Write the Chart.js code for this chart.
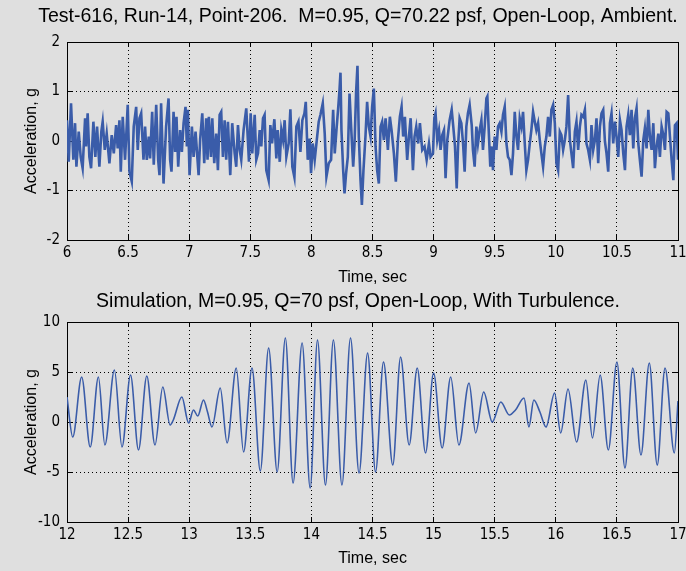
<!DOCTYPE html>
<html>
<head>
<meta charset="utf-8">
<script src="https://cdn.jsdelivr.net/npm/chart.js@4.4.1/dist/chart.umd.min.js"></script>
<style>
  html, body { margin: 0; padding: 0; background: #fff; }
  #fig { position: relative; width: 686px; height: 571px; background: #dfdfdf; }
  #fig canvas { position: absolute; left: 0; }
  #topChart { top: 0; }
  #bottomChart { top: 290px; }
</style>
</head>
<body>
<div id="fig">
  <canvas id="topChart" width="686" height="290"></canvas>
  <canvas id="bottomChart" width="686" height="281"></canvas>
</div>
<script>
// Wind tunnel record (top panel), time in sec / acceleration in g
const topTime = [
  6.000, 6.014, 6.033, 6.052, 6.066, 6.077, 6.096, 6.112, 6.128, 6.148,
  6.156, 6.169, 6.183, 6.197, 6.216, 6.232, 6.246, 6.265, 6.281, 6.292,
  6.309, 6.325, 6.347, 6.366, 6.383, 6.402, 6.415, 6.429, 6.440, 6.456,
  6.475, 6.497, 6.511, 6.530, 6.546, 6.566, 6.579, 6.593, 6.607, 6.626,
  6.639, 6.653, 6.669, 6.680, 6.697, 6.710, 6.730, 6.746, 6.757, 6.770,
  6.790, 6.811, 6.831, 6.844, 6.855, 6.872, 6.885, 6.896, 6.910, 6.926,
  6.940, 6.954, 6.970, 6.981, 6.989, 7.003, 7.022, 7.036, 7.052, 7.077,
  7.090, 7.107, 7.123, 7.139, 7.150, 7.161, 7.178, 7.189, 7.205, 7.221,
  7.235, 7.249, 7.262, 7.276, 7.290, 7.303, 7.317, 7.336, 7.352, 7.372,
  7.385, 7.399, 7.413, 7.426, 7.445, 7.467, 7.489, 7.503, 7.516, 7.536,
  7.549, 7.563, 7.577, 7.590, 7.604, 7.617, 7.631, 7.650, 7.664,
  7.678, 7.697, 7.713, 7.724, 7.741, 7.754, 7.768, 7.781, 7.795, 7.814,
  7.828, 7.844, 7.861, 7.877, 7.894, 7.910, 7.926, 7.943, 7.954, 7.970,
  7.986, 7.997, 8.011, 8.027, 8.047, 8.060, 8.074, 8.093, 8.109, 8.123,
  8.142, 8.161, 8.178, 8.191, 8.205, 8.219, 8.230, 8.238, 8.246, 8.260,
  8.271, 8.284, 8.298, 8.312, 8.325, 8.342, 8.353, 8.366, 8.377, 8.388,
  8.402, 8.413, 8.426, 8.443, 8.456, 8.470, 8.484, 8.497, 8.511, 8.525,
  8.538, 8.552, 8.566, 8.579, 8.593, 8.607, 8.626, 8.642, 8.656, 8.675,
  8.691, 8.708, 8.724, 8.738, 8.751, 8.765, 8.784, 8.798, 8.812, 8.831,
  8.844, 8.858, 8.874, 8.888, 8.907, 8.926, 8.943, 8.962, 8.975, 8.995,
  9.006, 9.016, 9.030, 9.044, 9.057, 9.071, 9.085, 9.098, 9.112, 9.131,
  9.148, 9.161, 9.175, 9.189, 9.200, 9.213, 9.227, 9.241, 9.254, 9.268,
  9.281, 9.295, 9.312, 9.322, 9.336, 9.350,
  9.363, 9.377, 9.391, 9.404, 9.418, 9.432, 9.440, 9.451, 9.464, 9.478,
  9.486, 9.500, 9.514, 9.527, 9.541, 9.555, 9.568, 9.582, 9.596, 9.609,
  9.623, 9.637, 9.650, 9.664, 9.678, 9.691, 9.705, 9.719, 9.732, 9.746,
  9.759, 9.773, 9.787, 9.800, 9.814, 9.828, 9.841, 9.855, 9.869, 9.882,
  9.896, 9.910, 9.923, 9.937, 9.951, 9.964, 9.978, 9.992, 10.005, 10.019,
  10.033, 10.046, 10.060, 10.074, 10.087, 10.101, 10.115, 10.128, 10.142, 10.156,
  10.169, 10.183, 10.197, 10.210, 10.224, 10.238, 10.251, 10.265, 10.279, 10.292,
  10.306, 10.320, 10.333, 10.347, 10.361, 10.374, 10.388, 10.402, 10.415, 10.429,
  10.443, 10.456, 10.470, 10.484, 10.497, 10.511, 10.525, 10.538, 10.552, 10.566,
  10.579, 10.593, 10.606, 10.620, 10.634, 10.647, 10.661, 10.675, 10.688, 10.702,
  10.716, 10.729, 10.743, 10.757, 10.770, 10.784, 10.798, 10.811, 10.825, 10.839,
  10.852, 10.866, 10.880, 10.893, 10.907, 10.921, 10.934, 10.948, 10.962, 10.975,
  10.989, 11.000
];
const topAccel = [
  0.42, -0.42, 0.76, -0.38, 0.36, -0.52, 0.19, -0.32, -0.55, 0.46,
  -0.11, 0.56, -0.32, -0.55, 0.39, -0.32, 0.29, -0.52, 0.19, 0.39,
  -0.18, 0.15, -0.45, 0.12, -0.25, 0.32, -0.15, 0.42, -0.62, 0.49,
  -0.38, 0.73, -0.62, -0.82, 0.29, 0.69, -0.18, 0.46, 0.56, -0.38,
  0.29, -0.38, 0.09, -0.35, 0.59, -0.48, 0.73, -0.38, -0.69, 0.76,
  -0.86, 0.29, 0.86, -0.38, -0.62, 0.59, -0.22, 0.49, -0.52, 0.22,
  -0.22, 0.36, 0.69, -0.11, 0.63, -0.69, 0.29, -0.32, 0.19, -0.69,
  0.05, 0.56, -0.45, 0.46, -0.38, 0.49, -0.32, 0.46, -0.45, 0.15,
  -0.59, 0.53, 0.59, -0.32, 0.42, -0.38, 0.39, -0.69, 0.36, -0.25,
  -0.52, 0.32, -0.18, -0.38, 0.22, 0.66, -0.42, 0.56, -0.25, 0.53,
  -0.38, -0.25, 0.22, -0.11, 0.46, 0.53, -0.59, -0.79, 0.32,
  -0.05, 0.44, -0.35, 0.22, -0.42, 0.22, 0.02, 0.42, -0.32, -0.05,
  0.64, -0.52, -0.73, 0.29, 0.39, -0.22, 0.42, 0.56, 0.79, -0.38,
  0.05, -0.65, -0.05, -0.38, 0.09, 0.39, 0.53, 0.76, 0.15, -0.72,
  -0.45, -0.38, 0.63, -0.25, 0.22, 0.66, 1.03, 1.38, 0.22, -0.59,
  -1.06, -0.65, -0.32, 0.96, 0.29, -0.52, -0.05, 1.00, 1.52, 0.09,
  -0.79, -1.29, -0.59, 0.12, 0.79, 0.29, 0.09, 0.69, 1.06, -0.11,
  -0.59, -0.86, 0.29, 0.39, 0.02, 0.46, -0.18, 0.49, 0.22, -0.25,
  -0.82, 0.02, 0.49, 0.69, 0.09, 0.49, -0.38, 0.09, 0.46, -0.59,
  0.09, 0.29, -0.05, 0.36, -0.18, -0.11, -0.38, -0.05, -0.32, -0.25,
  0.46, 0.56, 0.02, 0.22, -0.18, 0.12, 0.22, -0.75, 0.02, 0.42,
  0.63, 0.29, -0.11, -0.96, -0.11, 0.46, 0.36, -0.05, -0.62, 0.29,
  0.56, 0.73, 0.32, -0.18, -0.52, 0.29,
  -0.05, 0.22, 0.42, -0.18, 0.29, 0.86, 0.90, 0.22, -0.52, -0.11,
  -0.59, 0.09, -0.18, 0.29, 0.36, 0.19, 0.53, 0.69, -0.05, -0.32,
  -0.38, -0.69, -0.25, 0.59, 0.09, -0.18, 0.46, 0.29, 0.59, -0.05,
  -0.59, -0.38, -0.05, 0.22, 0.59, 0.39, 0.22, 0.36, 0.02, -0.25,
  -0.52, -0.11, 0.09, 0.49, 0.09, 0.63, 0.73, 0.36, -0.45, -0.59,
  0.19, 0.12, -0.18, 0.02, 0.29, 0.93, 0.02, -0.25, -0.55, 0.19,
  0.39, -0.18, 0.29, 0.53, 0.49, 0.63, -0.05, -0.18, -0.38, 0.32,
  -0.18, 0.02, 0.46, -0.45, 0.29, 0.56, 0.63, -0.01, -0.25, -0.62,
  0.36, 0.56, -0.05, 0.39, 0.09, -0.32, 0.42, 0.22, -0.25, -0.59,
  0.29, 0.53, 0.12, 0.63, -0.15, 0.46, 0.66, -0.05, -0.38, -0.72,
  0.02, 0.26, -0.15, 0.63, 0.09, -0.18, 0.36, -0.55, -0.11, 0.15,
  -0.32, 0.29, 0.12, -0.18, 0.59, 0.56, 0.09, -0.38, -0.79, 0.32,
  0.36, -0.38
];

// Simulation (bottom panel)
const simTime = [
  12.000, 12.047, 12.120, 12.190, 12.257, 12.310, 12.388, 12.450, 12.520, 12.585,
  12.653, 12.720, 12.784, 12.844, 12.870, 12.940, 12.995, 13.035, 13.070, 13.117,
  13.150, 13.186, 13.254, 13.310, 13.385, 13.445, 13.514, 13.582, 13.650, 13.720,
  13.787, 13.850, 13.924, 13.990, 14.050, 14.115, 14.180, 14.250, 14.320, 14.390,
  14.460, 14.525, 14.590, 14.666, 14.730, 14.800, 14.866, 14.934, 15.000, 15.070,
  15.140, 15.207, 15.290, 15.344, 15.410, 15.480, 15.550, 15.620, 15.670, 15.740,
  15.780, 15.820, 15.870, 15.920, 15.990, 16.040, 16.100, 16.170, 16.246, 16.300,
  16.363, 16.430, 16.500, 16.566, 16.630, 16.697, 16.765, 16.830, 16.894, 16.970,
  17.000
];
const simAccel = [
  2.5, -1.5, 4.5, -2.5, 4.5, -2.3, 5.2, -2.5, 4.7, -2.8,
  4.6, -2.3, 3.5, -0.3, 0.2, 2.5, -0.1, 1.2, 0.6, 2.2,
  1.0, -0.5, 3.4, -2.1, 5.4, -3.0, 5.4, -4.9, 7.4, -5.0,
  8.4, -6.1, 7.9, -6.6, 8.2, -6.3, 8.2, -6.3, 8.4, -5.1,
  6.9, -5.0, 6.0, -4.3, 6.5, -2.3, 5.4, -3.1, 4.9, -2.6,
  4.5, -2.3, 3.9, -1.1, 3.0, 0.0, 2.0, 0.7, 1.2, 2.4,
  -0.5, 2.2, 1.0, -0.5, 2.9, -1.1, 3.3, -2.0, 4.2, -1.6,
  4.7, -2.8, 6.0, -4.6, 5.4, -3.3, 5.9, -4.3, 5.4, -3.1,
  2.1
];

const topTitle = 'Test-616, Run-14, Point-206.  M=0.95, Q=70.22 psf, Open-Loop, Ambient.';
const bottomTitle = 'Simulation, M=0.95, Q=70 psf, Open-Loop, With Turbulence.';

const lineColor = '#3a5ca9';
const textFont = "'Liberation Sans', Arial, sans-serif";
const tickFontFamily = "'Liberation Sans Narrow', 'DejaVu Sans Condensed', sans-serif";

Chart.defaults.color = '#000';

function toPoints(xs, ys) {
  const n = Math.min(xs.length, ys.length);
  const pts = [];
  for (let i = 0; i < n; i++) pts.push({ x: xs[i], y: ys[i] });
  return pts;
}

// MATLAB-ish axis: dotted grid, ticks pointing inward, box on all sides
function axisOpts(position, min, max, step, opts) {
  const labelled = position === 'bottom' || position === 'left';
  return {
    type: 'linear',
    position,
    min, max,
    afterFit: s => {
      if (s.isHorizontal()) s.height = opts.size; else s.width = opts.size;
      // edge labels may hang past the plot box, like in MATLAB
      s.paddingLeft = 0;
      s.paddingRight = 0;
    },
    ticks: {
      display: labelled,
      stepSize: step,
      autoSkip: false,
      maxRotation: 0,
      padding: opts.pad || 0,
      font: { family: tickFontFamily, size: 15, lineHeight: 1.2 },
      color: '#000',
      callback: v => String(Math.round(v * 10) / 10)
    },
    grid: {
      drawOnChartArea: labelled,
      color: '#000',
      lineWidth: 1,
      tickLength: -5,
      tickColor: '#000',
      tickWidth: 1,
      tickBorderDash: []
    },
    border: { display: true, color: '#000', width: 1, dash: [1, 3] },
    title: opts.title ? {
      display: true,
      text: opts.title,
      color: '#000',
      font: { family: textFont, size: 16, lineHeight: 1.2 },
      padding: opts.titlePad
    } : { display: false }
  };
}

function createPanel(canvas, cfg) {
  return new Chart(canvas, {
    type: 'line',
    data: {
      datasets: [{
        data: toPoints(cfg.xs, cfg.ys),
        borderColor: lineColor,
        borderWidth: cfg.lineW,
        pointRadius: 0,
        fill: false,
        cubicInterpolationMode: cfg.smooth ? 'monotone' : 'default',
        tension: 0
      }]
    },
    options: {
      responsive: false,
      animation: false,
      events: [],
      layout: { padding: { left: 38, right: 8, top: 0, bottom: 0 } },
      plugins: {
        legend: { display: false },
        tooltip: { enabled: false },
        title: {
          display: true,
          text: cfg.title,
          color: '#000',
          font: { family: textFont, size: 19.5, lineHeight: 1.2, weight: 'normal' },
          padding: cfg.titlePad
        }
      },
      scales: {
        x: axisOpts('bottom', cfg.xMin, cfg.xMax, 0.5,
          { size: cfg.xAxisH, pad: 9, title: 'Time, sec', titlePad: { top: 0, bottom: 3 } }),
        y: axisOpts('left', cfg.yMin, cfg.yMax, cfg.yStep,
          { size: 29, pad: 12, title: 'Acceleration, g', titlePad: { top: -15.6, bottom: 0 } }),
        x2: axisOpts('top', cfg.xMin, cfg.xMax, 0.5, { size: 0 }),
        y2: axisOpts('right', cfg.yMin, cfg.yMax, cfg.yStep, { size: 0 })
      }
    }
  });
}

createPanel(document.getElementById('topChart'), {
  xs: topTime, ys: topAccel, smooth: false, lineW: 2.6,
  title: topTitle, titlePad: { top: 5.3, bottom: 13.3 },
  xMin: 6, xMax: 11, yMin: -2, yMax: 2, yStep: 1, xAxisH: 50
});

createPanel(document.getElementById('bottomChart'), {
  xs: simTime, ys: simAccel, smooth: true, lineW: 1.6,
  title: bottomTitle, titlePad: { top: 0.3, bottom: 8.3 },
  xMin: 12, xMax: 17, yMin: -10, yMax: 10, yStep: 5, xAxisH: 49
});
</script>
</body>
</html>
